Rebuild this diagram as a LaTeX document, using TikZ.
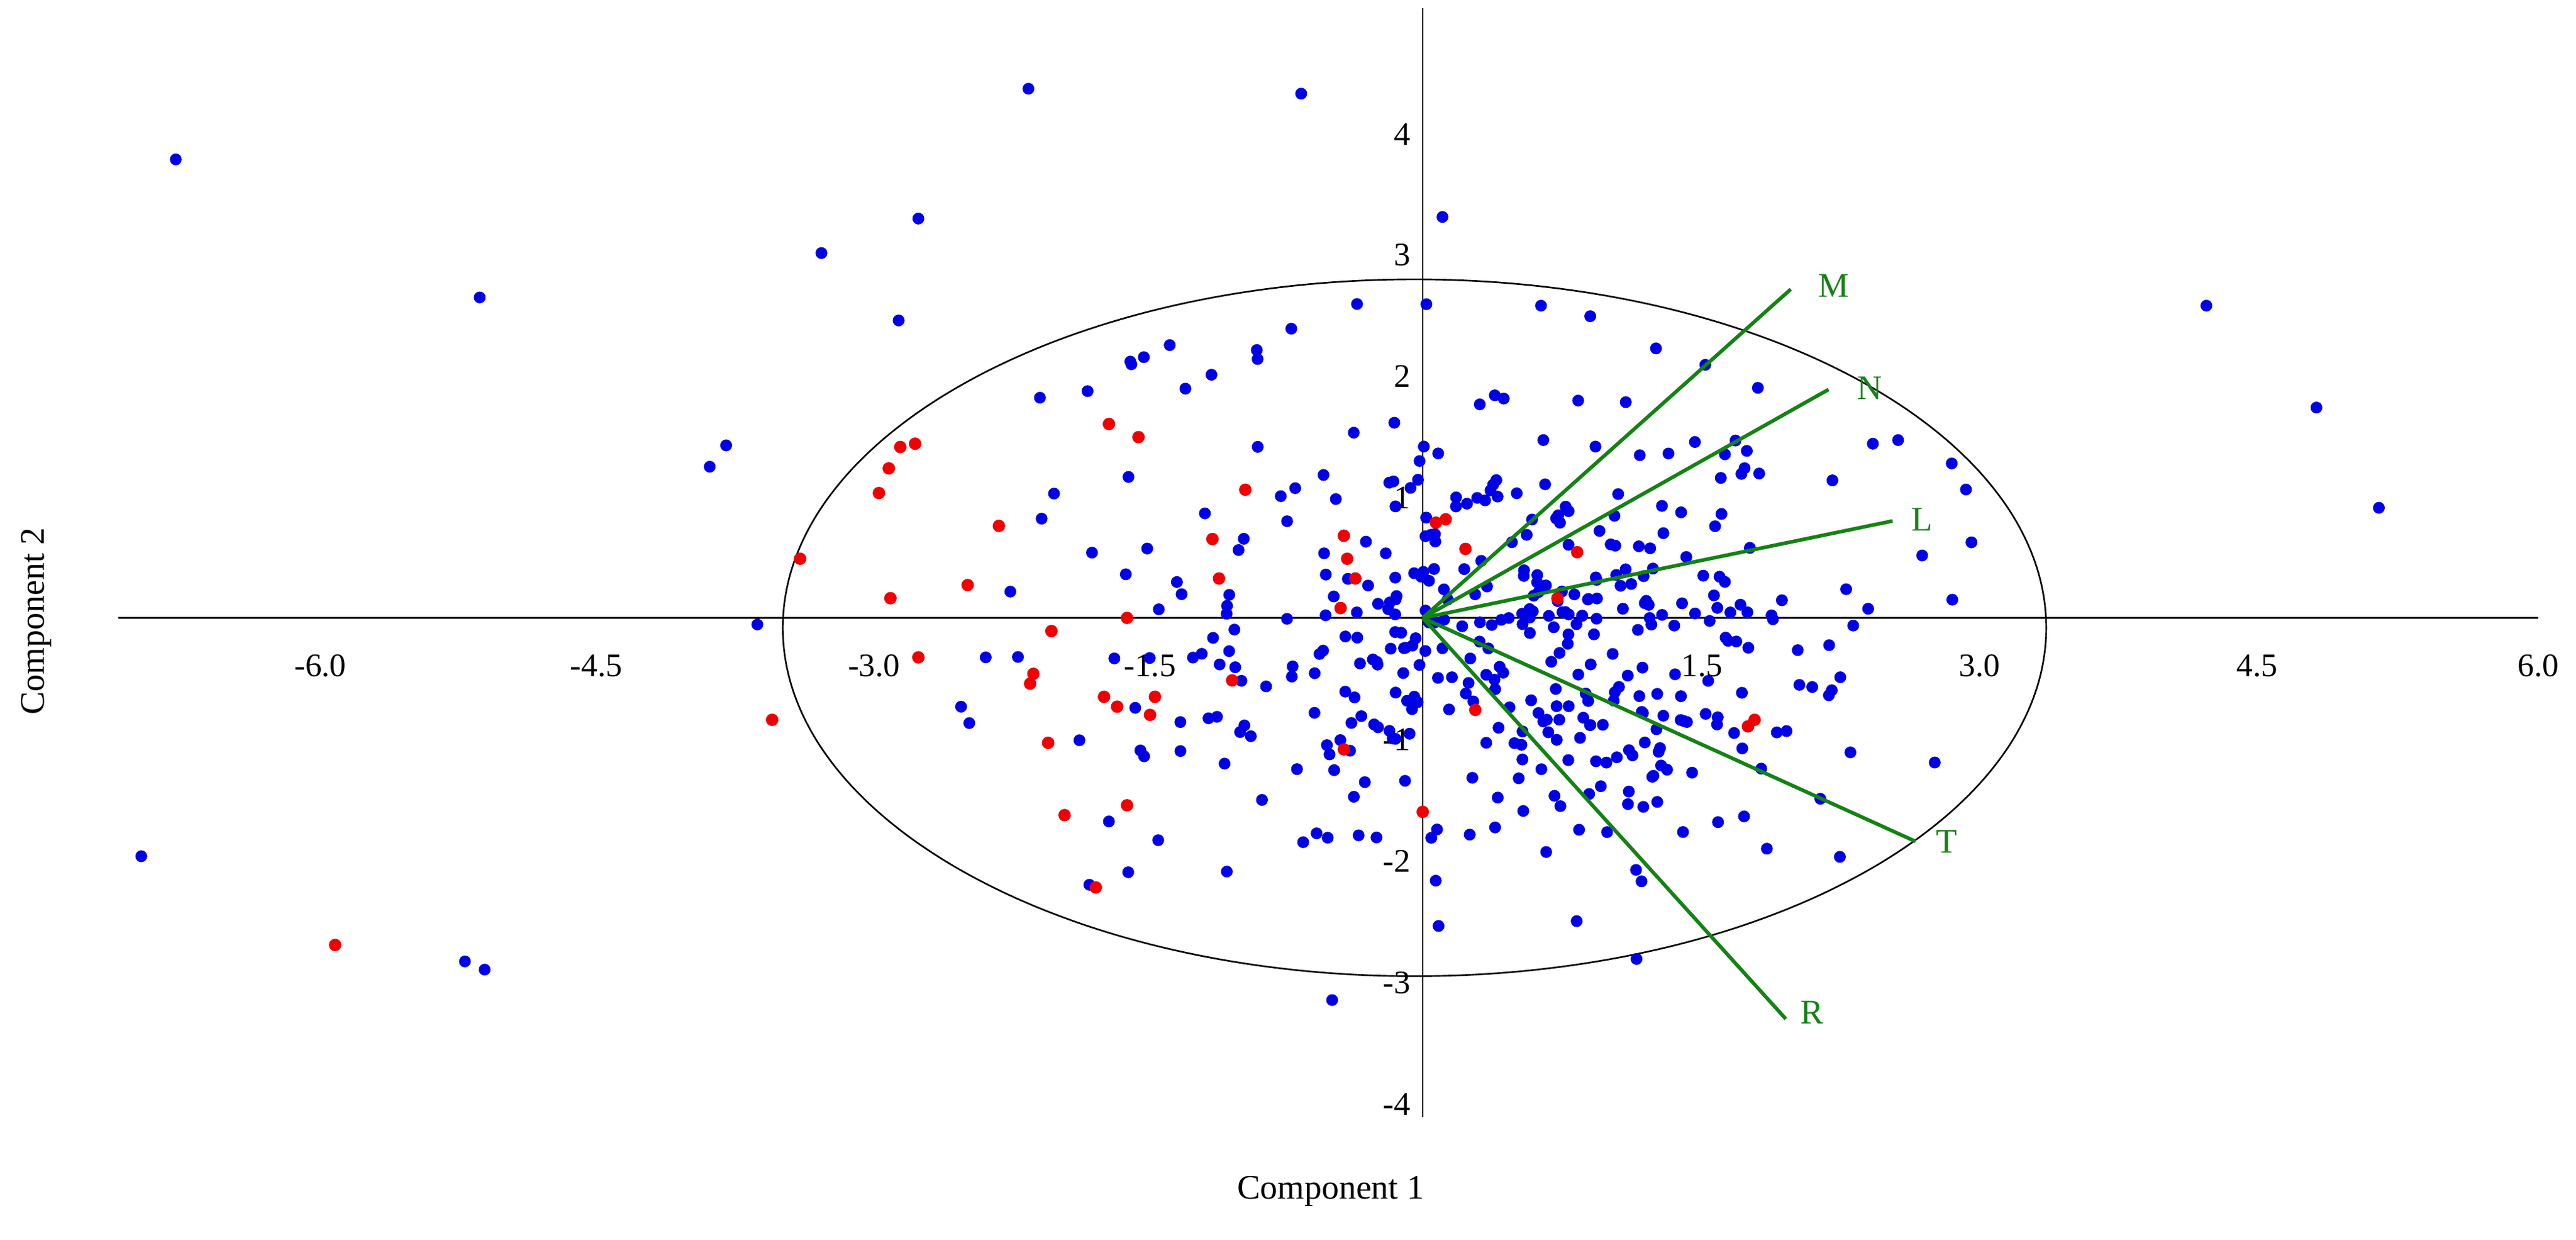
\documentclass[tikz,border=0pt]{standalone}
\usepackage{fontspec}
\setmainfont{Liberation Serif}
\definecolor{dblue}{RGB}{0,0,230}
\definecolor{dred}{RGB}{240,0,0}
\definecolor{dgreen}{RGB}{20,130,20}
\tikzset{bdot/.style={fill=dblue},rdot/.style={fill=dred},
 vec/.style={draw=dgreen,line width=2.2pt},
 vlab/.style={text=dgreen,font=\fontsize{21}{24}\selectfont},
 tick/.style={font=\fontsize{20}{24}\selectfont}}
\begin{document}
\begin{tikzpicture}[x=1pt,y=-1pt]
\useasboundingbox (0,0) rectangle (1568,754.5);
% axes
\draw[line width=1pt] (72,376) -- (1545,376);
\draw[line width=1pt] (866,5) -- (866,680);
\foreach \p/\l in {195/-6.0,363/-4.5,532/-3.0,700/-1.5,1036/1.5,1205/3.0,1374/4.5,1545/6.0}
 {\node[tick] (x\p) at (\p,405) {\l};}
\foreach \p/\l in {82/4,155/3,229/2,303/1,450/-1,524/-2,598/-3,672/-4}
 {\node[tick,anchor=east] (y\p) at (862,\p) {\l};}
\node[tick,font=\fontsize{21}{24}\selectfont] (c1) at (810,725) {Component 1};
\node[tick,font=\fontsize{21}{24}\selectfont,rotate=90] (c2) at (22,378) {Component 2};
% ellipse
\draw[line width=1pt] (861,382) ellipse [x radius=384.5, y radius=212];
% random cloud
\pgfmathsetseed{4177}
\foreach \i in {1,...,300}{
 \pgfmathsetmacro\dx{115*(rand+rand+rand)}
 \pgfmathsetmacro\dy{85*(rand+rand+rand)}
 \fill[bdot] (895+\dx,385+\dy) circle (3.6);
}
\foreach \i in {1,...,110}{
 \pgfmathsetmacro\dx{80*(rand+rand+rand)}
 \pgfmathsetmacro\dy{55*(rand+rand+rand)}
 \fill[bdot] (950+\dx,400+\dy) circle (3.6);
}
% blue outliers
\foreach \x/\y in {107/97,292/181,86/521,283/585,295/590,626/54,792/57,878/132,559/133,500/154,547/195,432/284,442/271,461/380,1343/186,1410/248,1448/309,826/185,938/186,1188/282,1200/330,1170/338,1115/420,600/400,585/430,590/440,615/360,633/242,662/238,688/220,712/210,765/213,786/200,1008/212,1038/222,1070/236,1140/270}
 {\fill[bdot] (\x,\y) circle (3.6);}
% red points
\foreach \x/\y in {487/340,470/438,541/285,548/272,557/270,535/300,542/364,559/400,589/356,608/320,629/410,627/416,640/384,638/452,648/496,667/540,672/424,680/430,686/376,686/490,703/424,700/435,675/258,693/266,738/328,742/352,750/414,758/298,818/326,820/340,825/352,816/370,818/456,874/318,880/316,892/334,866/494,960/336,948/364,1068/438,1064/442,204/575,898/432}
 {\fill[rdot] (\x,\y) circle (3.8);}
% vectors
\coordinate (o) at (866,376);
\coordinate (M) at (1090,176); \coordinate (N) at (1113,237);
\coordinate (L) at (1152,317); \coordinate (T) at (1166,512);
\coordinate (R) at (1087,620);
\foreach \v in {M,N,L,T,R} {\draw[vec] (o) -- (\v);}
\node[vlab] (lM) at (1116,174) {M};
\node[vlab] (lN) at (1138,236) {N};
\node[vlab] (lL) at (1170,316) {L};
\node[vlab] (lT) at (1185,512) {T};
\node[vlab] (lR) at (1103,616) {R};
\end{tikzpicture}
\end{document}
